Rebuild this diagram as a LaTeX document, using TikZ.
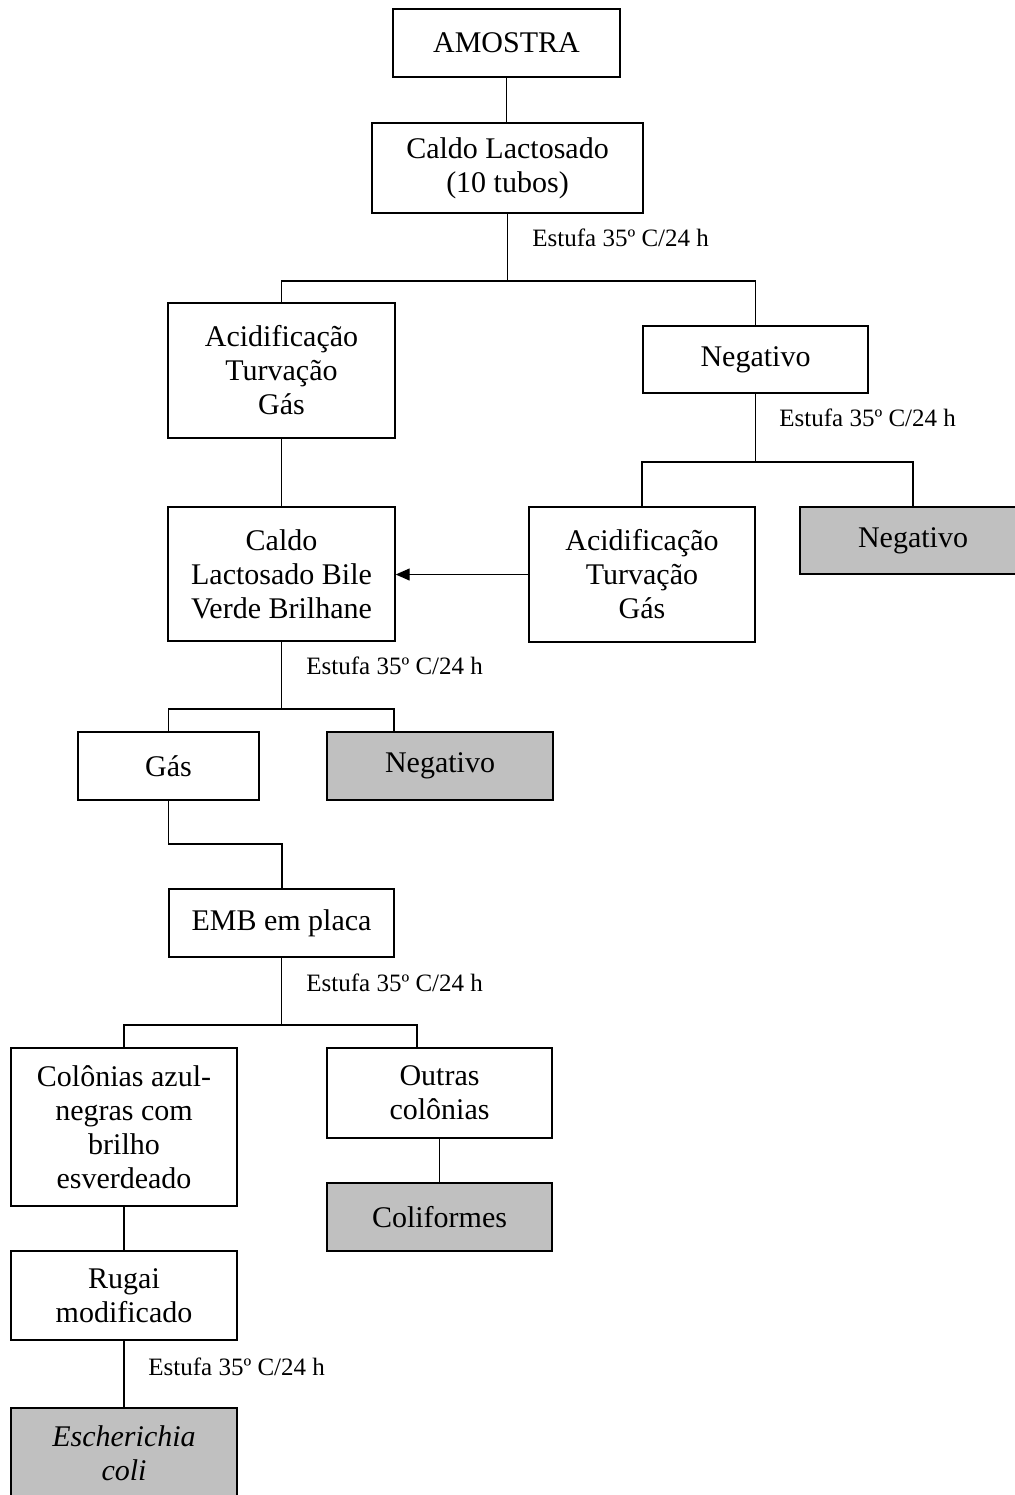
\documentclass[tikz,border=0pt]{standalone}
\usepackage{fontspec}
\setmainfont{Liberation Serif}
\usetikzlibrary{arrows.meta}
\definecolor{boxgray}{HTML}{C0C0C0}
\begin{document}
\begin{tikzpicture}[x=0.5pt,y=-0.5pt,
  box/.style={draw, line width=0.7pt, align=center, inner sep=0pt, font=\fontsize{15}{17}\selectfont},
  greybox/.style={box, fill=boxgray},
  lbl/.style={anchor=west, inner sep=0pt, font=\fontsize{12.5}{14}\selectfont},
  conn/.style={line width=0.6pt}]
\clip (0,0) rectangle (1015,1495);

% boxes
\node[box, minimum width=113.5pt, minimum height=34pt] (amostra) at (506.5,43) {AMOSTRA};
\node[box, minimum width=135.5pt, minimum height=45pt] (caldo) at (507.5,168) {Caldo Lactosado\\(10 tubos)};
\node[box, minimum width=113.5pt, minimum height=67.5pt] (acid1) at (281.5,370.5) {Acidificação\\Turvação\\Gás};
\node[box, minimum width=112.5pt, minimum height=33.5pt] (neg1) at (755.5,359.5) {Negativo};
\node[box, minimum width=113pt, minimum height=67.5pt] (acid2) at (642,574.5) {Acidificação\\Turvação\\Gás};
\node[greybox, minimum width=113pt, minimum height=33.5pt] (neg2) at (913,540.5) {Negativo};
\node[box, minimum width=113.5pt, minimum height=67pt] (bile) at (281.5,574) {Caldo\\Lactosado Bile\\Verde Brilhane};
\node[box, minimum width=90.5pt, minimum height=34pt] (gas) at (168.5,766) {Gás};
\node[greybox, minimum width=113pt, minimum height=34pt] (neg3) at (440,766) {Negativo};
\node[box, minimum width=112.5pt, minimum height=34pt] (emb) at (281.5,923) {EMB em placa};
\node[box, minimum width=113pt, minimum height=79pt] (col) at (124,1127) {Colônias azul-\\negras com\\brilho\\esverdeado};
\node[box, minimum width=112.5pt, minimum height=45pt] (outras) at (439.5,1093) {Outras\\colônias};
\node[greybox, minimum width=112.5pt, minimum height=34pt] (colif) at (439.5,1217) {Coliformes};
\node[box, minimum width=113pt, minimum height=44.5pt] (rugai) at (124,1295.5) {Rugai\\modificado};
\node[greybox, minimum width=113pt, minimum height=45pt, font=\fontsize{15}{17}\selectfont\itshape] (ecoli) at (124,1453) {Escherichia\\coli};

% labels
\node[lbl] (e1) at (532,238) {Estufa 35º C/24 h};
\node[lbl] (e2) at (779,418) {Estufa 35º C/24 h};
\node[lbl] (e3) at (306,666) {Estufa 35º C/24 h};
\node[lbl] (e4) at (306,983) {Estufa 35º C/24 h};
\node[lbl] (e5) at (148,1367) {Estufa 35º C/24 h};

% junction points
\coordinate (j1) at (507,281);
\coordinate (j2) at (755,462);
\coordinate (j3) at (282,709);
\coordinate (j3r) at (394,709);
\coordinate (j4) at (282,844);
\coordinate (j5) at (282,1025);
\coordinate (j5r) at (417,1025);

% connectors
\draw[conn] (amostra.south) -- (amostra.south |- caldo.north);
\draw[conn] (caldo.south) -- (caldo.south |- j1);
\draw[conn] (acid1.north) |- (neg1.north |- j1) -- (neg1.north);
\draw[conn] (neg1.south) -- (neg1.south |- j2);
\draw[conn] (acid2.north) |- (neg2.north |- j2) -- (neg2.north);
\draw[conn] (acid1.south) -- (bile.north);
\draw[conn, -{Triangle[length=7pt,width=6pt]}] (acid2.west) -- (acid2.west -| bile.east);
\draw[conn] (bile.south) -- (bile.south |- j3);
\draw[conn] (gas.north) |- (j3r) -- (j3r |- neg3.north);
\draw[conn] (gas.south) |- (j4) -- (j4 |- emb.north);
\draw[conn] (emb.south) -- (emb.south |- j5);
\draw[conn] (col.north) |- (j5r) -- (j5r |- outras.north);
\draw[conn] (outras.south) -- (colif.north);
\draw[conn] (col.south) -- (rugai.north);
\draw[conn] (rugai.south) -- (ecoli.north);
\end{tikzpicture}
\end{document}
